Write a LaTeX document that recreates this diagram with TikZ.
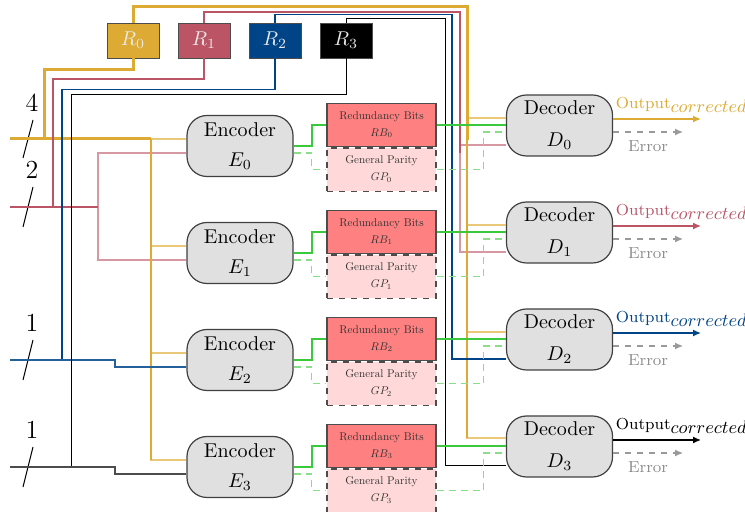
\documentclass[tikz,border=0pt]{standalone}
\usepackage{xcolor}
\usepackage{graphicx}
\usepackage{tikz}
\usetikzlibrary{positioning,calc,arrows.meta}
\definecolor{regyellow}{HTML}{DDAA33}
\definecolor{regred}{HTML}{BB5566}
\definecolor{regblue}{HTML}{004488}
\definecolor{linkgreen}{RGB}{60,200,60}
\definecolor{rbred}{HTML}{FF8080}
\definecolor{gpred}{HTML}{FFD9D9}
\newcommand{\outlabel}{Output\raisebox{-0.6ex}{\fontsize{9.4}{10}\selectfont$corrected$}}
\newcommand{\bittext}[2]{\scalebox{0.56}{\begin{tabular}{@{}c@{}}#1\\[3pt]#2\end{tabular}}}

\begin{document}
\begin{tikzpicture}[x=0.5pt,y=-0.5pt,>={Latex[length=4pt,width=3.5pt]},node
          distance=0pt]
            \tikzstyle{every node}=[inner sep=0pt]
            \tikzstyle{reg}=[draw=black!70, minimum width=26pt, minimum height=17.5pt, text=white!92!black]
            \tikzstyle{coder}=[draw=black!75, line width=0.6pt, fill=black!12, rounded corners=10pt, minimum width=53pt, minimum height=30.5pt, align=center]
            \tikzstyle{rbbox}=[draw=black!70, line width=0.6pt, fill=rbred, minimum width=54.5pt, minimum height=21.75pt, text=black!80]
            \tikzstyle{gpbox}=[rbbox, fill=gpred, dashed]
            \tikzstyle{dlink}=[linkgreen, line width=1pt]
            \tikzstyle{plink}=[linkgreen!60, line width=0.8pt, dash pattern=on 3.5pt off 2.5pt]
            \tikzstyle{goldlt}=[regyellow!65, line width=1pt]
            \tikzstyle{roselt}=[regred!60, line width=0.8pt]
            \tikzstyle{outarrow}=[->, line width=0.8pt]
            \tikzstyle{errarrow}=[->, black!40, line width=0.7pt, dashed]
            \tikzstyle{outtext}=[anchor=south west, xshift=1pt, yshift=3pt, font=\fontsize{8}{9}\selectfont]
            \tikzstyle{errtext}=[below=4pt, text=black!45, font=\fontsize{8}{9}\selectfont]
            \tikzstyle{width}=[font=\fontsize{13}{15}\selectfont]
            \useasboundingbox (0,0) rectangle (745,512);

            \node[reg, fill=regyellow] (R0) at (133,40.5) {$R_0$};
            \node[reg, fill=regred]    (R1) at (204,40.5) {$R_1$};
            \node[reg, fill=regblue]   (R2) at (275,40.5) {$R_2$};
            \node[reg, fill=black]     (R3) at (346,40.5) {$R_3$};

            \node[coder] (E0) at (240,146) {Encoder\\[3pt]$E_0$};
            \node[coder] (E1) at (240,253) {Encoder\\[3pt]$E_1$};
            \node[coder] (E2) at (240,360) {Encoder\\[3pt]$E_2$};
            \node[coder] (E3) at (240,467) {Encoder\\[3pt]$E_3$};

            \node[rbbox] (RB0) at (381.5,125) {\bittext{Redundancy Bits}{$RB_0$}};
            \node[gpbox, below=of RB0] (GP0) {\bittext{General Parity}{$GP_0$}};
            \node[rbbox] (RB1) at (381.5,232) {\bittext{Redundancy Bits}{$RB_1$}};
            \node[gpbox, below=of RB1] (GP1) {\bittext{General Parity}{$GP_1$}};
            \node[rbbox] (RB2) at (381.5,339) {\bittext{Redundancy Bits}{$RB_2$}};
            \node[gpbox, below=of RB2] (GP2) {\bittext{General Parity}{$GP_2$}};
            \node[rbbox] (RB3) at (381.5,446) {\bittext{Redundancy Bits}{$RB_3$}};
            \node[gpbox, below=of RB3] (GP3) {\bittext{General Parity}{$GP_3$}};

            \node[coder] (D0) at (559.5,125.5) {Decoder\\[4pt]$D_0$};
            \node[coder] (D1) at (559.5,232.5) {Decoder\\[4pt]$D_1$};
            \node[coder] (D2) at (559.5,339.5) {Decoder\\[4pt]$D_2$};
            \node[coder] (D3) at (559.5,446.5) {Decoder\\[4pt]$D_3$};

            \coordinate (in4) at (10,139);
            \coordinate (in2) at (10,207);
            \coordinate (in1a) at (10,360);
            \coordinate (in1b) at (10,467);
            \coordinate (j4) at (151,139);
            \coordinate (j2) at (98,207);
            \coordinate (g0) at (44,139);
            \coordinate (g1) at (53,207);
            \coordinate (g2) at (62,360);
            \coordinate (g3) at (71,467);
            \coordinate (gbus) at (467,140);
            \coordinate (rbus) at (460,153);

            \node[width] (n4) at ($(in4)+(22,-36)$) {4};
            \node[width] (n2) at ($(in2)+(22,-37)$) {2};
            \node[width] (n1a) at ($(in1a)+(22,-37)$) {1};
            \node[width] (n1b) at ($(in1b)+(22,-37)$) {1};
            \draw[line width=0.5pt] ($(in4)+(23,-19)$) -- ++(-10,38);
            \draw[line width=0.5pt] ($(in2)+(23,-20)$) -- ++(-10,40);
            \draw[line width=0.5pt] ($(in1a)+(23,-20)$) -- ++(-10,40);
            \draw[line width=0.5pt] ($(in1b)+(23,-20)$) -- ++(-10,40);

            \draw[goldlt] ($(E0.west)+(0,-6.5)$) -- ++(-36,0);
            \draw[goldlt] ($(E1.west)+(0,-6.5)$) -- ++(-36,0);
            \draw[goldlt] ($(E2.west)+(0,-6.5)$) -- ++(-36,0);
            \draw[goldlt] ($(E3.west)+(0,-7)$) -- ++(-36,0);
            \draw[roselt] (j2) |- ($(E0.west)+(0,7)$);
            \draw[roselt] (j2) |- ($(E1.west)+(0,7)$);
            \draw[goldlt] ($(D0.west)+(0,-7.5)$) -- ++(-40,0);
            \draw[goldlt] ($(D1.west)+(0,-7.5)$) -- ++(-40,0);
            \draw[goldlt] ($(D2.west)+(0,-7.5)$) -- ++(-40,0);
            \draw[goldlt] ($(D3.west)+(0,-8.5)$) -- ++(-40,0);
            \draw[roselt] ($(D0.west)+(0,19.5)$) -- ++(-47,0);
            \draw[roselt] (rbus) |- ($(D1.west)+(0,19.5)$);

            \draw[regyellow, line width=0.6pt] (j4) -- ++(0,321);
            \draw[regyellow, line width=0.6pt] (gbus) -- ++(0,298);
            \draw[regyellow, line width=1.5pt] (in4) -- (j4);
            \draw[regyellow, line width=1.5pt] (R0.south) -- ++(0,11) -| (g0);
            \draw[regyellow, line width=1.5pt] (R0.north) -- ++(0,-16) -| (gbus);

            \draw[regred, line width=1pt] (in2) -- (j2);
            \draw[regred, line width=1pt] (R1.south) -- ++(0,21) -| (g1);
            \draw[regred, line width=1pt] (R1.north) -- ++(0,-11) -| (rbus);

            \draw[regblue, line width=0.6pt] (R2.south) -- ++(0,31) -| (g2);
            \draw[regblue!85, line width=0.6pt] (in1a) -- ++(105,0) |- ($(E2.west)+(0,7)$);
            \draw[regblue, line width=0.6pt] (R2.north) -- ++(0,-8) -- ++(177,0) |- ($(D2.west)+(0,19.5)$);

            \draw[black, line width=0.5pt] (R3.south) -- ++(0,36) -| (g3);
            \draw[black!70, line width=0.6pt] (in1b) -- ++(105,0) |- ($(E3.west)+(0,7)$);
            \draw[black, line width=0.5pt] (R3.north) -- ++(0,-4.5) -- ++(99,0) |- ($(D3.west)+(0,19.5)$);

            \draw[dlink] (E0.east) -- ++(18,0) |- (RB0.west);
            \draw[dlink] (E1.east) -- ++(18,0) |- (RB1.west);
            \draw[dlink] (E2.east) -- ++(18,0) |- (RB2.west);
            \draw[dlink] (E3.east) -- ++(18,0) |- (RB3.west);
            \draw[dlink] (RB0.east) -- (RB0.east -| D0.west);
            \draw[dlink] (RB1.east) -- (RB1.east -| D1.west);
            \draw[dlink] (RB2.east) -- (RB2.east -| D2.west);
            \draw[dlink] (RB3.east) -- (RB3.east -| D3.west);
            \draw[plink] ($(E0.east)+(0,7)$) -- ++(18,0) |- (GP0.west);
            \draw[plink] ($(E1.east)+(0,7)$) -- ++(18,0) |- (GP1.west);
            \draw[plink] ($(E2.east)+(0,7)$) -- ++(18,0) |- (GP2.west);
            \draw[plink] ($(E3.east)+(0,7)$) -- ++(18,0) |- (GP3.west);
            \draw[plink] (GP0.east) -- ++(47,0) |- ($(D0.west)+(0,6.5)$);
            \draw[plink] (GP1.east) -- ++(47,0) |- ($(D1.west)+(0,6.5)$);
            \draw[plink] (GP2.east) -- ++(47,0) |- ($(D2.west)+(0,6.5)$);
            \draw[plink] (GP3.east) -- ++(47,0) |- ($(D3.west)+(0,6.5)$);

            \draw[outarrow, regyellow] ($(D0.east)+(0,-6.5)$) -- ++(88,0) node[outtext, pos=0] (O0) {\outlabel};
            \draw[outarrow, regred] ($(D1.east)+(0,-6.5)$) -- ++(88,0) node[outtext, pos=0] (O1) {\outlabel};
            \draw[outarrow, regblue] ($(D2.east)+(0,-6.5)$) -- ++(88,0) node[outtext, pos=0] (O2) {\outlabel};
            \draw[outarrow, black] ($(D3.east)+(0,-6.5)$) -- ++(88,0) node[outtext, pos=0] (O3) {\outlabel};
            \draw[errarrow] ($(D0.east)+(0,6.5)$) -- ++(70,0) node[errtext, midway] (X0) {Error};
            \draw[errarrow] ($(D1.east)+(0,6.5)$) -- ++(70,0) node[errtext, midway] (X1) {Error};
            \draw[errarrow] ($(D2.east)+(0,6.5)$) -- ++(70,0) node[errtext, midway] (X2) {Error};
            \draw[errarrow] ($(D3.east)+(0,6.5)$) -- ++(70,0) node[errtext, midway] (X3) {Error};
        \end{tikzpicture}
\end{document}
